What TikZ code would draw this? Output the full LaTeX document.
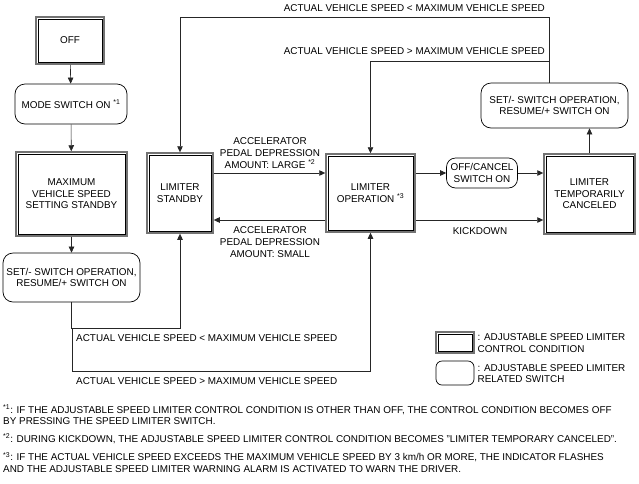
\documentclass[tikz,border=0pt]{standalone}
\usepackage{fontspec}
\setmainfont{Liberation Sans}
\usetikzlibrary{arrows.meta,positioning}
\begin{document}
\begin{tikzpicture}[x=1pt,y=-1pt,
  every node/.style={font=\fontsize{9.9}{11.6}\selectfont, align=center, inner sep=0pt},
  dbox/.style={draw=black!55, line width=1.5pt, minimum width=#1, append after command={\pgfextra{\draw[black,line width=0.7pt] ([shift={(2.8pt,-2.8pt)}]\tikzlastnode.north west) rectangle ([shift={(-2.8pt,2.8pt)}]\tikzlastnode.south east);}}},
  rbox/.style={draw=black, line width=0.7pt, rounded corners=10pt},
  arr/.style={draw=black!85, line width=0.6pt, -{Triangle[length=6pt,width=5.5pt]}},
  ln/.style={draw=black!85, line width=0.6pt}
]
\useasboundingbox (0,0) rectangle (639,483);
\fill[white] (0,0) rectangle (639,483);
% nodes
\node[dbox=68pt, minimum height=47pt] (off) at (70,40.5) {OFF};
\node[rbox, minimum width=112pt, minimum height=40pt] (mode) at (71,104) {MODE SWITCH ON \textsuperscript{*1}};
\node[dbox=111pt, minimum height=84pt] (maxb) at (71.5,194) {MAXIMUM\\VEHICLE SPEED\\SETTING STANDBY};
\node[rbox, minimum width=137pt, minimum height=49pt] (set1) at (71.5,277.5) {SET/- SWITCH OPERATION,\\RESUME/+ SWITCH ON};
\node[dbox=66pt, minimum height=80pt] (stby) at (180,193) {LIMITER\\STANDBY};
\node[dbox=89pt, minimum height=78pt] (oper) at (370.5,193) {LIMITER\\OPERATION \textsuperscript{*3}};
\node[rbox, rounded corners=9pt, minimum width=71pt, minimum height=30pt] (offc) at (482,173) {OFF/CANCEL\\SWITCH ON};
\node[dbox=91pt, minimum height=80pt] (canc) at (589.5,194) {LIMITER\\TEMPORARILY\\CANCELED};
\node[rbox, minimum width=147pt, minimum height=45pt] (set2) at (554.5,105.5) {SET/- SWITCH OPERATION,\\RESUME/+ SWITCH ON};
% coordinates
\coordinate (t1) at (549,17);
\coordinate (t2) at (549,61);
\coordinate (b1) at (72,328);
\coordinate (b2) at (72,371);
% connectors
\draw[arr] (off) -- (mode);
\draw[arr] (mode) -- (maxb);
\draw[arr] (maxb) -- (set1);
\draw[arr] ([yshift=20pt]stby.east) -- ([yshift=20pt]stby.east -| oper.west);
\draw[arr] ([yshift=-27pt]oper.west) -- ([yshift=-27pt]oper.west -| stby.east);
\draw[arr] (offc.west -| oper.east) -- (offc.west);
\draw[arr] (offc.east) -- (offc.east -| canc.west);
\draw[arr] ([yshift=-27pt]oper.east) -- ([yshift=-27pt]oper.east -| canc.west);
\draw[arr] (canc.north) -- (canc.north |- set2.south);
\draw[arr] (set2.north -| t1) -- (t1) -| (stby.north);
\draw[arr] (t2) -| (oper.north);
\draw[arr] (set1.south) -- (set1.south |- b1) -| (stby.south);
\draw[arr] (b1) -- (b2) -| (oper.south);
% labels
\node (l1) at (270,153) {ACCELERATOR\\PEDAL DEPRESSION\\AMOUNT: LARGE \textsuperscript{*2}};
\node (l2) at (270,242) {ACCELERATOR\\PEDAL DEPRESSION\\AMOUNT: SMALL};
\node (l3) at (480,231) {KICKDOWN};
\node[anchor=east] (l4) at (545,8) {ACTUAL VEHICLE SPEED < MAXIMUM VEHICLE SPEED};
\node[anchor=east] (l5) at (545,51) {ACTUAL VEHICLE SPEED > MAXIMUM VEHICLE SPEED};
\node[anchor=west] (l6) at (76,338) {ACTUAL VEHICLE SPEED < MAXIMUM VEHICLE SPEED};
\node[anchor=west] (l7) at (76,381) {ACTUAL VEHICLE SPEED > MAXIMUM VEHICLE SPEED};
% legend
\node[dbox=38pt, minimum height=21pt] (lg1) at (455,342.5) {};
\node[anchor=west, align=left] (lg1t) at (477.5,343) {: ADJUSTABLE SPEED LIMITER\\CONTROL CONDITION};
\node[rbox, rounded corners=6pt, minimum width=38pt, minimum height=24pt] (lg2) at (455,373) {};
\node[anchor=west, align=left] (lg2t) at (477.5,373.5) {: ADJUSTABLE SPEED LIMITER\\RELATED SWITCH};
% footnotes
\node[anchor=west, align=left] (f1) at (3,415) {\textsuperscript{*1}: IF THE ADJUSTABLE SPEED LIMITER CONTROL CONDITION IS OTHER THAN OFF, THE CONTROL CONDITION BECOMES OFF\\BY PRESSING THE SPEED LIMITER SWITCH.};
\node[anchor=west, align=left] (f2) at (3,439) {\textsuperscript{*2}: DURING KICKDOWN, THE ADJUSTABLE SPEED LIMITER CONTROL CONDITION BECOMES "LIMITER TEMPORARY CANCELED".};
\node[anchor=west, align=left] (f3) at (3,462.5) {\textsuperscript{*3}: IF THE ACTUAL VEHICLE SPEED EXCEEDS THE MAXIMUM VEHICLE SPEED BY 3 km/h OR MORE, THE INDICATOR FLASHES\\AND THE ADJUSTABLE SPEED LIMITER WARNING ALARM IS ACTIVATED TO WARN THE DRIVER.};
\end{tikzpicture}
\end{document}
